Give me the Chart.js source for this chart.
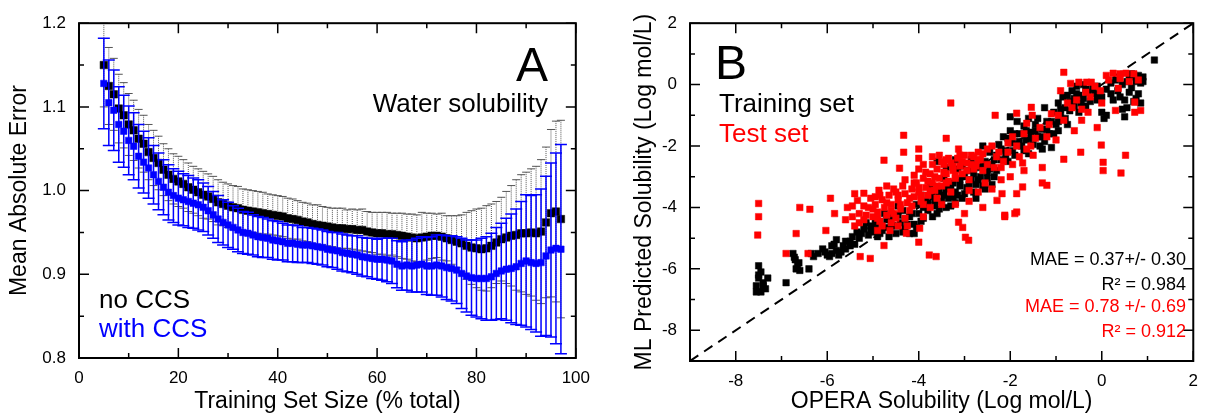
<!DOCTYPE html>
<html>
<head>
<meta charset="utf-8">
<script src="https://cdn.jsdelivr.net/npm/chart.js@4.4.1/dist/chart.umd.min.js"></script>
<style>
  html, body { margin: 0; padding: 0; background: #fff; }
  #wrap { position: relative; width: 1208px; height: 413px; overflow: hidden; font-family: 'Liberation Sans', Arial, sans-serif; }
  canvas { position: absolute; top: 0; }
  #chartA { left: 0; }
  #chartB { left: 604px; }
  .note { position: absolute; line-height: 1; white-space: nowrap; }
</style>
</head>
<body>
<div id="wrap">
  <canvas id="chartA" width="600" height="413"></canvas>
  <canvas id="chartB" width="604" height="413"></canvas>

  <div class="note" style="right:660px; top:41px; font-size:48px;">A</div>
  <div class="note" style="right:660px; top:90px; font-size:26px;">Water solubility</div>
  <div class="note" style="left:99px; top:286px; font-size:26px;">no CCS</div>
  <div class="note" style="left:99px; top:315px; font-size:26px; color:#0000ff;">with CCS</div>

  <div class="note" style="left:715px; top:39px; font-size:48px;">B</div>
  <div class="note" style="left:719px; top:90px; font-size:26px;">Training set</div>
  <div class="note" style="left:719px; top:120px; font-size:26px; color:#ff0000;">Test set</div>
  <div class="note" style="right:22px; top:250px; font-size:18px;">MAE = 0.37+/- 0.30</div>
  <div class="note" style="right:22px; top:275px; font-size:18px;">R² = 0.984</div>
  <div class="note" style="right:22px; top:297px; font-size:18px; color:#ff0000;">MAE = 0.78 +/- 0.69</div>
  <div class="note" style="right:22px; top:322px; font-size:18px; color:#ff0000;">R² = 0.912</div>
</div>

<script>
// ---- panel A: learning curve ----
const trainSize = [5,6,7,8,9,10,11,12,13,14,15,16,17,18,19,20,21,22,23,24,25,26,27,28,29,30,
  31,32,33,34,35,36,37,38,39,40,41,42,43,44,45,46,47,48,49,50,51,52,53,54,55,56,57,58,59,60,
  61,62,63,64,65,66,67,68,69,70,71,72,73,74,75,76,77,78,79,80,81,82,83,84,85,86,87,88,89,90,
  91,92,93,94,95,96,97];

const maeNoCcs = [1.150,1.125,1.115,1.098,1.090,1.079,1.072,1.062,1.056,1.046,1.039,1.033,1.025,1.019,1.014,1.011,
  1.008,1.004,1.001,0.998,0.995,0.993,0.990,0.986,0.984,0.982,0.980,0.979,0.977,0.976,0.975,0.974,
  0.973,0.972,0.971,0.970,0.969,0.967,0.966,0.965,0.963,0.962,0.960,0.959,0.958,0.957,0.956,0.955,
  0.955,0.954,0.954,0.953,0.953,0.951,0.950,0.949,0.949,0.948,0.948,0.947,0.946,0.945,0.944,0.943,
  0.944,0.945,0.946,0.946,0.945,0.943,0.941,0.939,0.937,0.934,0.932,0.931,0.930,0.931,0.934,0.938,
  0.942,0.944,0.946,0.947,0.949,0.949,0.950,0.949,0.951,0.962,0.973,0.975,0.966];

const errNoCcs = [0.050,0.046,0.043,0.041,0.039,0.037,0.036,0.035,0.034,0.033,0.033,0.032,0.031,0.031,0.030,0.030,
  0.029,0.029,0.028,0.028,0.028,0.027,0.027,0.027,0.026,0.026,0.026,0.026,0.025,0.025,0.025,0.025,
  0.025,0.024,0.024,0.024,0.024,0.024,0.024,0.023,0.023,0.023,0.023,0.024,0.023,0.023,0.023,0.024,
  0.024,0.023,0.024,0.024,0.025,0.024,0.024,0.025,0.025,0.026,0.025,0.026,0.027,0.027,0.028,0.028,
  0.030,0.028,0.027,0.026,0.028,0.027,0.029,0.031,0.034,0.040,0.044,0.047,0.049,0.051,0.050,0.049,
  0.050,0.055,0.060,0.066,0.070,0.073,0.076,0.080,0.086,0.090,0.100,0.108,0.118];

const maeCcs = [1.128,1.105,1.096,1.079,1.071,1.060,1.053,1.041,1.034,1.027,1.019,1.011,1.004,0.998,0.994,0.991,
  0.989,0.987,0.985,0.983,0.980,0.976,0.971,0.966,0.962,0.959,0.956,0.953,0.950,0.949,0.947,0.945,
  0.944,0.943,0.941,0.940,0.939,0.937,0.937,0.936,0.935,0.935,0.934,0.933,0.932,0.930,0.929,0.928,
  0.926,0.925,0.924,0.923,0.921,0.920,0.919,0.918,0.918,0.917,0.916,0.912,0.910,0.911,0.910,0.911,
  0.912,0.910,0.910,0.911,0.910,0.908,0.907,0.905,0.901,0.898,0.896,0.895,0.895,0.895,0.897,0.901,
  0.904,0.906,0.907,0.909,0.913,0.916,0.914,0.913,0.914,0.922,0.929,0.931,0.930];

const errCcs = [0.054,0.051,0.048,0.045,0.043,0.041,0.040,0.038,0.037,0.036,0.035,0.034,0.033,0.033,0.032,0.032,
  0.031,0.031,0.030,0.030,0.029,0.029,0.028,0.028,0.027,0.027,0.026,0.026,0.025,0.025,0.024,0.024,
  0.024,0.023,0.023,0.023,0.022,0.022,0.022,0.022,0.021,0.021,0.021,0.021,0.021,0.021,0.021,0.022,
  0.022,0.022,0.022,0.023,0.023,0.023,0.024,0.024,0.025,0.026,0.027,0.028,0.029,0.030,0.031,0.032,
  0.033,0.034,0.035,0.036,0.037,0.038,0.039,0.040,0.042,0.043,0.045,0.046,0.048,0.050,0.052,0.055,
  0.057,0.061,0.065,0.069,0.074,0.079,0.080,0.082,0.088,0.095,0.104,0.114,0.125];

const xTicksA = [0, 20, 40, 60, 80, 100];
const xMinorA = [10, 30, 50, 70, 90];
const yTicksA = [0.8, 0.9, 1.0, 1.1, 1.2];
const yMinorA = [0.85, 0.95, 1.05, 1.15];

// ---- panel B: predicted vs OPERA solubility, [x, y] ----
const trainPts = [
  [-7.5,-5.9],[-7.45,-6.1],[-7.5,-6.3],[-7.4,-6.45],[-7.55,-6.55],[-7.35,-6.65],[-7.55,-6.75],[-7.3,-6.3],
  [-7.45,-6.75],[-7.5,-6.2],[-7.4,-6.55],[-6.9,-6.45],
  [-6.75,-5.5],[-6.7,-5.7],[-6.65,-5.9],[-6.6,-6.05],[-6.72,-5.62],[-6.62,-5.8],[-6.68,-6.0],
  [-6.4,-6.0],[-6.35,-5.5],
  [-6.2,-5.5],[-6.05,-5.45],[-5.95,-5.6],[-5.9,-5.5],[-5.8,-5.4],[-5.7,-5.45],[-5.6,-5.35],[-5.5,-5.25],
  [-6.1,-5.35],[-6.0,-5.55],[-5.75,-5.55],
  [-5.8,-5.05],[-5.6,-5.1],[-5.45,-4.95],[-5.3,-5.0],[-5.9,-5.25],[-5.5,-5.1],[-5.35,-4.8],
  [-5.2,-4.7],[-5.1,-4.9],[-5.0,-4.8],[-4.9,-4.6],[-4.8,-4.75],[-4.9,-4.95],[-5.15,-4.5],[-4.7,-4.4],
  [-4.6,-4.6],[-4.5,-4.85],[-4.55,-4.3],[-4.4,-4.5],[-4.3,-4.7],[-4.2,-4.85],[-4.35,-4.1],[-4.2,-4.3],
  [-4.1,-4.55],[-4.0,-4.2],[-4.05,-3.9],[-3.9,-4.35],[-3.85,-3.8],[-3.8,-4.1],[-3.7,-3.6],[-3.65,-3.95],
  [-3.6,-4.2],[-3.55,-3.5],[-3.5,-3.8],[-3.4,-3.4],[-3.35,-3.7],[-3.3,-3.95],[-3.25,-3.2],[-3.2,-3.5],
  [-3.1,-3.3],[-3.05,-3.7],[-3.0,-3.0],[-2.95,-3.35],[-2.9,-2.8],[-2.85,-3.1],[-2.8,-3.5],[-2.7,-2.7],
  [-2.65,-3.0],[-2.6,-3.3],[-2.55,-2.5],[-2.5,-2.85],[-2.45,-2.2],[-2.4,-2.6],[-2.35,-3.0],[-2.3,-2.3],
  [-2.25,-1.95],[-2.2,-2.45],[-2.15,-1.7],[-2.1,-2.15],[-2.0,-1.5],[-1.95,-1.9],[-1.9,-2.3],[-1.85,-1.2],
  [-1.8,-1.6],[-1.75,-2.0],[-1.7,-1.35],[-1.65,-1.8],[-1.6,-1.1],[-1.55,-1.55],[-1.5,-1.95],[-1.45,-1.3],
  [-1.4,-1.7],[-1.35,-2.0],[-1.3,-1.45],[-1.25,-1.85],[-1.2,-1.2],[-1.15,-1.6],[-1.1,-2.05],[-1.05,-0.9],
  [-1.0,-1.3],[-0.95,-0.6],[-0.9,-1.0],[-0.85,-0.4],[-0.8,-0.75],[-0.75,-1.3],[-0.7,-0.55],[-0.65,-0.2],
  [-0.6,-0.45],[-0.55,-0.05],[-0.5,-0.35],[-0.45,-0.6],[-0.4,0.0],[-0.3,-0.25],[-0.2,-0.1],[-0.1,-0.5],
  [-0.05,-0.3],[0.0,-0.9],[0.05,-1.1],[0.1,-1.0],[0.3,0.15],[0.35,-0.2],[0.4,-0.4],[0.45,0.0],
  [0.5,-0.5],[0.45,-0.8],[0.5,-1.05],[0.6,0.3],[0.7,0.25],[0.75,0.1],[0.8,0.3],[0.85,0.05],
  [0.9,0.25],[0.8,-0.3],[0.7,-0.55],[0.85,-0.6],[1.15,0.8],
  [-4.75,-4.2],[-4.45,-3.95],[-3.95,-3.6],[-3.75,-3.3],[-3.45,-3.05],[-3.15,-2.75],[-2.85,-2.45],[-2.75,-3.7],
  [-3.6,-2.5],[-3.4,-2.7],[-3.2,-2.45],[-3.05,-2.65],[-3.15,-3.6],[-2.75,-3.25],[-2.55,-3.4],[-2.4,-3.25],
  [-4.65,-4.95],[-4.1,-4.85],[-5.05,-4.6],[-4.95,-4.35],[-2.05,-2.5],[-1.6,-2.25],[-1.3,-2.1],[-0.95,-1.5],
  [-0.35,-0.7],[0.2,-0.3],[0.65,-0.1],[-2.6,-2.0],[-2.0,-1.05],[-1.25,-0.75],
  [-5.25,-4.85],[-5.05,-4.75],[-4.95,-4.55],[-4.85,-4.85],[-4.7,-4.65],[-4.65,-4.35],[-4.5,-4.6],[-4.45,-4.25],
  [-4.35,-4.8],[-4.25,-4.55],[-4.15,-4.2],[-4.05,-4.65],[-3.95,-4.45],[-3.9,-4.0],[-3.8,-3.85],[-3.7,-4.3],
  [-3.65,-3.75],[-3.55,-4.05],[-3.45,-3.6],[-3.4,-4.0],[-3.3,-3.3],[-3.25,-3.65],[-3.2,-3.85],[-3.1,-3.1],
  [-3.0,-3.55],[-2.9,-3.25],[-2.8,-2.9],[-2.7,-3.1],[-2.6,-2.6],[-2.5,-3.05],[-2.45,-2.75],[-2.35,-2.45],
  [-2.3,-2.8],[-2.2,-2.1],[-2.1,-2.35],[-2.05,-1.75],[-1.95,-2.15],[-1.9,-1.6],[-1.8,-1.85],[-1.7,-2.15],
  [-1.65,-1.5],[-1.55,-1.75],[-1.45,-1.5],[-1.4,-1.1],[-1.3,-1.7],[-1.2,-1.45],[-1.1,-1.2],[-1.05,-1.6],
  [-0.95,-1.2],[-0.9,-0.8],[-0.8,-1.1],[-0.75,-0.35],[-0.7,-0.85],[-0.6,-0.7],[-0.55,-0.3],[-0.5,-0.9],
  [-0.4,-0.45],[-0.35,-0.15],[-0.25,-0.55],[-0.15,-0.3],[-0.1,-0.05],[0.0,-0.4],[0.1,-0.15],[0.2,0.05],
  [0.25,-0.5],[0.55,0.1],[0.65,0.35],[0.6,-0.25],[0.9,0.1],[0.75,-0.45],[0.55,-0.75],[-5.4,-5.2],
  [-5.65,-5.25],[-6.3,-5.6],[-5.85,-5.2]
];

const testPts = [
  [-7.5,-3.87],[-7.5,-4.3],[-7.52,-4.9],[-6.6,-4.0],[-6.38,-4.06],[-6.68,-4.85],[-6.9,-5.5],[-6.42,-5.5],
  [-5.84,-4.2],[-5.93,-3.7],[-5.56,-4.0],[-6.03,-4.75],[-5.45,-4.3],[-5.34,-3.77],[-5.2,-3.54],[-4.87,-3.44],
  [-5.4,-3.55],[-4.42,-2.72],[-4.76,-2.46],[-4.33,-1.65],[-4.33,-2.2],[-4.0,-2.1],[-4.0,-2.4],[-4.0,-2.75],
  [-3.4,-1.75],[-3.3,-0.6],[-3.7,-2.35],[-3.4,-2.45],[-3.13,-2.1],[-3.77,-5.55],[-3.62,-5.6],[-5.28,-5.6],
  [-5.06,-5.66],[-4.0,-5.13],[-4.76,-5.24],[-4.27,-4.84],[-4.63,-4.75],
  [-0.83,0.4],[-2.33,-1.0],[-1.86,-0.93],[-1.54,-0.74],[-1.52,-1.0],[-0.68,0.04],[-0.5,0.08],[-0.33,0.08],
  [-0.23,0.08],[-0.03,-0.2],[-0.25,-0.4],[-0.44,-0.8],[-0.44,-1.16],[-0.83,-1.16],[0.25,0.37],[0.36,-0.12],
  [0.53,0.37],[0.3,-0.84],[0.72,-0.57],[0.72,-0.9],[0.85,-0.84],[-0.01,-1.97],[0.03,-2.53],[0.03,-2.8],
  [0.42,-2.88],[0.52,-2.3],[-0.46,-2.2],[-0.83,-2.43],[-1.3,-2.7],[-1.3,-3.2],[-1.2,-3.28],[-1.73,-3.33],
  [-1.64,-2.1],[-1.86,-3.55],[-1.9,-4.2],[-2.12,-4.3],[-2.18,-3.55],[-2.29,-3.77],[-1.73,-2.55],[-3.04,-4.65],
  [-2.98,-4.97],[-3.13,-4.48],[-3.98,-4.68],[-2.91,-5.07],[-2.12,-4.25],[-1.86,-4.15],
  [-2.5,-2.1],[-1.86,-2.0],[-1.64,-1.26],[-2.05,-1.9],[-2.3,-2.35],[-2.7,-2.2],[-2.85,-2.6],[-2.2,-2.7],
  [-1.95,-2.6],[-2.55,-3.2],[-2.7,-3.5],[-2.4,-3.4],[-2.2,-3.1],[-2.9,-3.8],[-3.2,-3.9],[-2.6,-4.0],
  [-3.0,-4.2],[-2.0,-3.0],[-1.5,-2.3],[-1.7,-2.8],[-1.2,-1.7],[-1.0,-1.8],[-0.6,-1.5],[-0.3,-0.9],
  [-0.1,-1.4],[-0.65,-0.75],[-1.1,-0.95],[-0.9,-0.2],[0.0,-0.6],[0.6,0.1],[0.1,0.3],[0.4,0.2],
  [-5.3,-4.2],[-5.2,-4.4],[-5.1,-4.0],[-5.0,-4.3],[-4.95,-3.9],[-4.9,-4.15],[-4.85,-4.45],[-4.8,-3.75],
  [-4.75,-4.0],[-4.7,-4.25],[-4.65,-3.6],[-4.6,-3.9],[-4.55,-4.2],[-4.5,-3.5],[-4.45,-3.75],[-4.4,-4.05],
  [-4.35,-3.3],[-4.3,-3.55],[-4.25,-3.85],[-4.2,-4.1],[-4.15,-3.4],[-4.1,-3.65],[-4.05,-3.2],[-4.0,-3.5],
  [-3.95,-3.8],[-3.9,-3.05],[-3.85,-3.35],[-3.8,-3.6],[-3.75,-2.9],[-3.7,-3.2],[-3.65,-3.45],[-3.6,-2.75],
  [-3.55,-3.05],[-3.5,-3.3],[-3.45,-2.6],[-3.4,-2.9],[-3.35,-3.15],[-3.3,-2.55],[-3.25,-2.8],[-3.2,-3.05],
  [-3.15,-2.4],[-3.1,-2.65],[-3.05,-2.9],[-3.0,-2.3],[-2.95,-2.55],[-2.9,-3.1],[-2.8,-2.35],[-2.75,-2.65],
  [-2.65,-2.45],[-2.6,-2.8],[-4.6,-4.5],[-4.3,-4.35],[-3.9,-4.3],[-5.4,-4.6],[-3.6,-3.7],[-3.3,-3.5],
  [-4.7,-3.3],[-4.95,-3.65],[-4.1,-2.95],[-3.9,-2.6],[-3.55,-2.3],[-3.75,-4.0],[-4.45,-4.6],[-4.8,-4.6],
  [-5.2,-3.95],
  [-5.6,-4.4],[-5.45,-3.95],[-5.3,-4.5],[-5.15,-4.25],[-5.05,-3.7],[-4.9,-4.35],[-4.85,-3.6],[-4.7,-3.85],
  [-4.6,-4.1],[-4.55,-3.4],[-4.45,-3.6],[-4.4,-3.9],[-4.3,-3.1],[-4.2,-3.7],[-4.15,-3.95],[-4.1,-3.2],
  [-4.0,-3.35],[-3.95,-3.6],[-3.85,-2.85],[-3.8,-3.15],[-3.75,-3.45],[-3.7,-2.6],[-3.65,-3.0],[-3.6,-3.3],
  [-3.5,-2.5],[-3.45,-2.85],[-3.4,-3.2],[-3.35,-2.4],[-3.25,-2.65],[-3.2,-2.95],[-3.1,-2.3],[-3.05,-2.5],
  [-2.95,-2.8],[-2.85,-2.3],[-2.8,-2.75],[-2.7,-2.45],[-2.6,-2.25],[-2.5,-2.6],[-2.4,-2.0],[-2.35,-2.7],
  [-2.25,-2.2],[-2.15,-2.5],[-2.05,-2.2],[-1.95,-1.7],[-1.8,-2.35],[-1.7,-1.6],[-1.55,-2.0],[-1.45,-1.75],
  [-1.35,-1.4],[-1.15,-1.3],[-0.95,-1.0],[-0.75,-0.6],[-0.55,-0.5],[-0.35,-0.25],[-0.15,-0.05],[0.15,0.15],
  [0.4,0.35],[0.7,0.35],[0.8,0.15],[-4.9,-4.75],[-4.25,-4.6],[-3.5,-3.9],[-2.9,-3.45],[-3.9,-3.9],
  [-4.5,-4.35],[-5.0,-4.05]
];

const diagLine = [[-9, -9], [2, 2]];

const xTicksB = [-8, -6, -4, -2, 0, 2];
const xMinorB = [-7, -5, -3, -1, 1];
const yTicksB = [-8, -6, -4, -2, 0, 2];
const yMinorB = [-7, -5, -3, -1, 1];

Chart.defaults.font.family = "'Liberation Sans', Arial, sans-serif";
Chart.defaults.color = '#000';

// error bars, drawn just before the dataset's own squares
const errorBars = {
  id: 'errorBars',
  beforeDatasetDraw(chart, args) {
    const ds = chart.data.datasets[args.index];
    if (!ds.errors) return;
    const { ctx, scales: { x, y } } = chart;
    ctx.save();
    ctx.strokeStyle = ds.errColor;
    ctx.lineWidth = ds.errWidth;
    ds.data.forEach((p, i) => {
      const px = x.getPixelForValue(p.x);
      const top = y.getPixelForValue(p.y + ds.errors[i]);
      const bot = y.getPixelForValue(p.y - ds.errors[i]);
      ctx.setLineDash(ds.errDash);
      ctx.beginPath();
      ctx.moveTo(px, top); ctx.lineTo(px, bot);
      ctx.stroke();
      ctx.setLineDash([]);
      ctx.beginPath();
      ctx.moveTo(px - ds.capHalf, top); ctx.lineTo(px + ds.capHalf, top);
      ctx.moveTo(px - ds.capHalf, bot); ctx.lineTo(px + ds.capHalf, bot);
      ctx.stroke();
    });
    ctx.restore();
  }
};

// closed frame with inward ticks on all four sides
const frameTicks = {
  id: 'frameTicks',
  afterDatasetsDraw(chart, args, opts) {
    const { ctx, chartArea: a, scales: { x, y } } = chart;
    ctx.save();
    ctx.strokeStyle = '#000';
    ctx.lineWidth = 1.5;
    const tick = (vals, len, horiz) => {
      vals.forEach(v => {
        ctx.beginPath();
        if (horiz) {
          const px = x.getPixelForValue(v);
          ctx.moveTo(px, a.bottom); ctx.lineTo(px, a.bottom - len);
          ctx.moveTo(px, a.top); ctx.lineTo(px, a.top + len);
        } else {
          const py = y.getPixelForValue(v);
          ctx.moveTo(a.left, py); ctx.lineTo(a.left + len, py);
          ctx.moveTo(a.right, py); ctx.lineTo(a.right - len, py);
        }
        ctx.stroke();
      });
    };
    tick(opts.xMajor, 10, true);
    tick(opts.xMinor, 5, true);
    tick(opts.yMajor, 10, false);
    tick(opts.yMinor, 5, false);
    ctx.lineWidth = 2;
    ctx.strokeRect(a.left, a.top, a.right - a.left, a.bottom - a.top);
    ctx.restore();
  }
};

const tickFont = { size: 17 };
const titleFont = { size: 23, lineHeight: 1 };

new Chart(document.getElementById('chartA'), {
  type: 'scatter',
  data: {
    datasets: [
      {
        label: 'with CCS',
        data: trainSize.map((v, i) => ({ x: v, y: maeCcs[i] })),
        errors: errCcs, errColor: '#0000ff', errWidth: 1.5, errDash: [], capHalf: 6,
        pointStyle: 'rect', pointRadius: 4.6, backgroundColor: '#0000ff', borderColor: '#0000ff', borderWidth: 0.5,
        order: 0
      },
      {
        label: 'no CCS',
        data: trainSize.map((v, i) => ({ x: v, y: maeNoCcs[i] })),
        errors: errNoCcs, errColor: '#555555', errWidth: 1, errDash: [1, 1], capHalf: 4,
        pointStyle: 'rect', pointRadius: 5.3, backgroundColor: '#000', borderColor: '#000', borderWidth: 0.5,
        order: 1
      }
    ]
  },
  options: {
    responsive: false,
    animation: false,
    events: [],
    layout: { padding: { left: 0, right: 24, top: 20, bottom: 0 } },
    plugins: {
      legend: { display: false },
      tooltip: { enabled: false },
      frameTicks: { xMajor: xTicksA, xMinor: xMinorA, yMajor: yTicksA, yMinor: yMinorA }
    },
    scales: {
      x: {
        type: 'linear', min: 0, max: 100,
        afterBuildTicks: s => { s.ticks = xTicksA.map(v => ({ value: v })); },
        afterFit: s => { s.height = 55; },
        grid: { display: false, drawTicks: false },
        border: { display: false },
        ticks: { font: tickFont, padding: 10, maxRotation: 0 },
        title: { display: true, text: 'Training Set Size (% total)', font: titleFont, padding: { top: 0, bottom: 0 } }
      },
      y: {
        type: 'linear', min: 0.8, max: 1.2,
        afterBuildTicks: s => { s.ticks = yTicksA.map(v => ({ value: v })); },
        afterFit: s => { s.width = 79; },
        grid: { display: false, drawTicks: false },
        border: { display: false },
        ticks: { font: tickFont, padding: 13, callback: v => v.toFixed(1) },
        title: { display: true, text: 'Mean Absolute Error', font: titleFont, padding: { top: 8.5, bottom: 0 } }
      }
    }
  },
  plugins: [errorBars, frameTicks]
});

new Chart(document.getElementById('chartB'), {
  type: 'scatter',
  data: {
    datasets: [
      {
        label: 'Test set',
        data: testPts.map(p => ({ x: p[0], y: p[1] })),
        pointStyle: 'rect', pointRadius: 4.6, backgroundColor: '#ff0000', borderColor: '#ff0000', borderWidth: 0.5,
        order: 0
      },
      {
        label: 'Training set',
        data: trainPts.map(p => ({ x: p[0], y: p[1] })),
        pointStyle: 'rect', pointRadius: 4.6, backgroundColor: '#000', borderColor: '#000', borderWidth: 0.5,
        order: 1
      },
      {
        type: 'line',
        label: 'y = x',
        data: diagLine.map(p => ({ x: p[0], y: p[1] })),
        borderColor: '#000', borderWidth: 2, borderDash: [10, 7], pointRadius: 0, fill: false,
        order: 2
      }
    ]
  },
  options: {
    responsive: false,
    animation: false,
    events: [],
    layout: { padding: { left: 0, right: 6, top: 23, bottom: 0 } },
    plugins: {
      legend: { display: false },
      tooltip: { enabled: false },
      frameTicks: { xMajor: xTicksB, xMinor: xMinorB, yMajor: yTicksB, yMinor: yMinorB }
    },
    scales: {
      x: {
        type: 'linear', min: -9, max: 2,
        afterBuildTicks: s => { s.ticks = xTicksB.map(v => ({ value: v })); },
        afterFit: s => { s.height = 52; },
        grid: { display: false, drawTicks: false },
        border: { display: false },
        ticks: { font: tickFont, padding: 10, maxRotation: 0 },
        title: { display: true, text: 'OPERA Solubility (Log mol/L)', font: titleFont, padding: { top: 0, bottom: 0 } }
      },
      y: {
        type: 'linear', min: -9, max: 2,
        afterBuildTicks: s => { s.ticks = yTicksB.map(v => ({ value: v })); },
        afterFit: s => { s.width = 86; },
        grid: { display: false, drawTicks: false },
        border: { display: false },
        ticks: { font: tickFont, padding: 13 },
        title: { display: true, text: 'ML Predicted Solubility (Log mol/L)', font: titleFont, padding: { top: 29, bottom: 0 } }
      }
    }
  },
  plugins: [frameTicks]
});
</script>
</body>
</html>
